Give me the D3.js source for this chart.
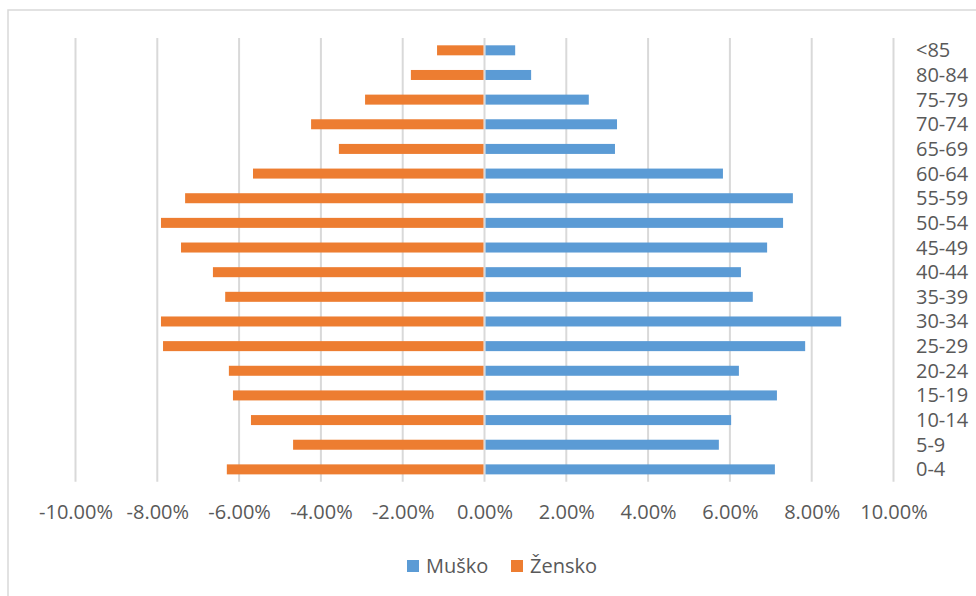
<!DOCTYPE html>
<html>
<head>
<meta charset="utf-8">
<script src="https://cdn.jsdelivr.net/npm/d3@7"></script>
<style>
  html, body { margin: 0; padding: 0; background: #fff; }
  svg { display: block; }
  text { font-family: "Open Sans", "Noto Sans", sans-serif; fill: #595959; }
</style>
</head>
<body>
<svg id="chart" width="976" height="596"></svg>
<script>
// age groups, top to bottom
const ageGroups = ["<85", "80-84", "75-79", "70-74", "65-69", "60-64", "55-59", "50-54", "45-49",
  "40-44", "35-39", "30-34", "25-29", "20-24", "15-19", "10-14", "5-9", "0-4"];

// share of population, percent
const musko = [0.75, 1.14, 2.55, 3.24, 3.19, 5.83, 7.54, 7.30, 6.91,
  6.27, 6.56, 8.72, 7.84, 6.22, 7.15, 6.03, 5.73, 7.10];
const zensko = [-1.16, -1.80, -2.92, -4.24, -3.56, -5.66, -7.32, -7.91, -7.42,
  -6.64, -6.34, -7.91, -7.86, -6.25, -6.15, -5.71, -4.68, -6.30];

const xTicks = [-10, -8, -6, -4, -2, 0, 2, 4, 6, 8, 10];

const series = [
  { name: "Muško", values: musko, color: "#5B9BD5" },
  { name: "Žensko", values: zensko, color: "#ED7D31" },
];

const svg = d3.select("#chart");

// chart frame (only top and left edges are visible in the picture)
svg.append("rect")
  .attr("x", 8).attr("y", 10)
  .attr("width", 1000).attr("height", 700)
  .attr("fill", "none")
  .attr("stroke", "#d9d9d9")
  .attr("stroke-width", 1.5);

const x = d3.scaleLinear().domain([-10, 10]).range([75.5, 893.5]);
const y = d3.scaleBand().domain(ageGroups).range([38, 481.7])
  .paddingInner(0.594).paddingOuter(0.297);

// gridlines
svg.append("g").attr("class", "grid")
  .selectAll("line")
  .data(xTicks)
  .join("line")
  .attr("x1", (d) => x(d)).attr("x2", (d) => x(d))
  .attr("y1", 38).attr("y2", 481.7)
  .attr("stroke", "#d9d9d9")
  .attr("stroke-width", 2);

// bars
series.forEach((s) => {
  svg.append("g")
    .selectAll("rect")
    .data(s.values.map((v, i) => ({ v, g: ageGroups[i] })))
    .join("rect")
    .attr("x", (d) => (d.v < 0 ? x(d.v) : x(0) + 1))
    .attr("width", (d) => Math.abs(x(d.v) - x(0)) - 1)
    .attr("y", (d) => y(d.g))
    .attr("height", y.bandwidth())
    .attr("fill", s.color);
});

// x tick labels (plain hyphen for negatives, like the original)
const fmt = d3.formatLocale({ decimal: ".", thousands: ",", grouping: [3], currency: ["", ""], minus: "-" })
  .format(".2f");
const xAxis = d3.axisBottom(x)
  .tickValues(xTicks)
  .tickFormat((d) => fmt(d) + "%")
  .tickSize(0)
  .tickPadding(0);

const gx = svg.append("g")
  .attr("transform", "translate(0,500)")
  .call(xAxis);
gx.select(".domain").remove();
gx.selectAll("text")
  .attr("dy", null)
  .attr("y", 19)
  .attr("font-size", 20)
  .attr("font-family", null)
  .attr("fill", "#595959");

// category labels on the right
const yAxis = d3.axisRight(y).tickSize(0).tickPadding(0);
const gy = svg.append("g")
  .attr("transform", "translate(916,0)")
  .call(yAxis);
gy.select(".domain").remove();
gy.selectAll("text")
  .attr("dy", "0.35em")
  .attr("font-size", 20)
  .attr("font-family", null)
  .attr("fill", "#595959");

// legend
const legend = svg.append("g").attr("class", "legend");
const legendX = [407, 511];
series.forEach((s, i) => {
  const g = legend.append("g").attr("transform", `translate(${legendX[i]},560)`);
  g.append("rect").attr("width", 12).attr("height", 12).attr("fill", s.color);
  g.append("text")
    .attr("x", 19).attr("y", 13)
    .attr("font-size", 20)
    .text(s.name);
});
</script>
</body>
</html>
